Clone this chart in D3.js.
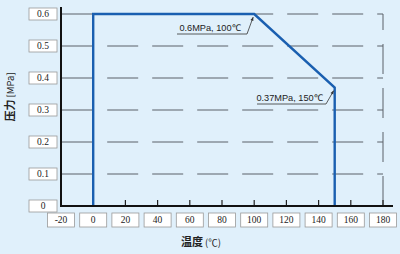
<!DOCTYPE html>
<html>
<head>
<meta charset="utf-8">
<script src="https://cdn.jsdelivr.net/npm/d3@7"></script>
<style>
  body { margin: 0; background: #e0f0fb; }
  svg { display: block; }
</style>
</head>
<body>
<div id="chart"></div>
<script>
// data
var xTicks = [-20, 0, 20, 40, 60, 80, 100, 120, 140, 160, 180];
var yTicks = [0, 0.1, 0.2, 0.3, 0.4, 0.5, 0.6];
var curveTemp = [0, 0, 100, 150, 150];
var curvePress = [0, 0.6, 0.6, 0.37, 0];
var notes = [
  { t: 100, p: 0.6, label: "0.6MPa, 100\u2103" },
  { t: 150, p: 0.37, label: "0.37MPa, 150\u2103" }
];

var w = 400, h = 254;
var svg = d3.select("#chart").append("svg")
  .attr("width", w).attr("height", h);

svg.append("rect").attr("width", w).attr("height", h).attr("fill", "#e0f0fb");

var x = d3.scaleLinear().domain([-20, 180]).range([61, 383]);
var y = d3.scaleLinear().domain([0, 0.6]).range([206, 14]);

var gridCol = "#5a6068";

// grid lines: solid up to 0, dashed after
yTicks.filter(function(d) { return d > 0; }).forEach(function(v) {
  svg.append("line")
    .attr("x1", x(-20)).attr("x2", x(0))
    .attr("y1", y(v)).attr("y2", y(v))
    .attr("stroke", gridCol).attr("stroke-width", 1);
  svg.append("line")
    .attr("x1", x(0)).attr("x2", x(180))
    .attr("y1", y(v)).attr("y2", y(v))
    .attr("stroke", gridCol).attr("stroke-width", 1)
    .attr("stroke-dasharray", "31,14")
    .attr("stroke-dashoffset", 31);
});

// right dashed border
svg.append("line")
  .attr("x1", x(180)).attr("x2", x(180))
  .attr("y1", y(0)).attr("y2", y(0.6))
  .attr("stroke", gridCol).attr("stroke-width", 1)
  .attr("stroke-dasharray", "30,14");

// x ticks
svg.selectAll(".xt")
  .data(xTicks.filter(function(d) { return d > 0; }))
  .enter().append("line")
  .attr("x1", function(d) { return x(d); })
  .attr("x2", function(d) { return x(d); })
  .attr("y1", y(0)).attr("y2", y(0) - 6)
  .attr("stroke", "#222").attr("stroke-width", 1.2);

// curve
var line = d3.line()
  .x(function(d) { return x(d[0]); })
  .y(function(d) { return y(d[1]); });
svg.append("path")
  .datum(d3.zip(curveTemp, curvePress))
  .attr("d", line)
  .attr("fill", "none")
  .attr("stroke", "#1a5fb0")
  .attr("stroke-width", 2.4)
  .attr("stroke-linejoin", "miter");

// axes
svg.append("line")
  .attr("x1", x(-20)).attr("x2", x(-20))
  .attr("y1", 7).attr("y2", y(0) + 1)
  .attr("stroke", "#111").attr("stroke-width", 2);
svg.append("line")
  .attr("x1", x(-20) - 1).attr("x2", 393)
  .attr("y1", y(0)).attr("y2", y(0))
  .attr("stroke", "#111").attr("stroke-width", 2);

// y tick boxes
var yb = svg.selectAll(".yb").data(yTicks).enter().append("g")
  .attr("transform", function(d) { return "translate(43," + y(d) + ")"; });
yb.append("rect")
  .attr("x", -14).attr("y", -6).attr("width", 28).attr("height", 12)
  .attr("fill", "#fff").attr("stroke", "#9a9a9a").attr("stroke-width", 0.8);
yb.append("text")
  .attr("text-anchor", "middle").attr("dy", "0.35em")
  .attr("font-family", "Liberation Serif, serif").attr("font-size", 9.5)
  .attr("fill", "#222")
  .text(function(d) { return d3.format("")(d); });

// x tick boxes
var xb = svg.selectAll(".xb").data(xTicks).enter().append("g")
  .attr("transform", function(d) { return "translate(" + x(d) + ",220)"; });
xb.append("rect")
  .attr("x", -13.5).attr("y", -7).attr("width", 27).attr("height", 14)
  .attr("fill", "#fff").attr("stroke", "#9a9a9a").attr("stroke-width", 0.8);
xb.append("text")
  .attr("text-anchor", "middle").attr("dy", "0.35em")
  .attr("font-family", "Liberation Serif, serif").attr("font-size", 9.5)
  .attr("fill", "#222")
  .text(function(d) { return d; });

// annotations
var ann = [
  { ux1: 177, ux2: 247, uy: 34 },
  { ux1: 257, ux2: 326, uy: 104 }
];
notes.forEach(function(n, i) {
  var a = ann[i];
  var px = x(n.t) - 1, py = y(n.p) + 3;
  svg.append("text")
    .attr("x", (a.ux1 + a.ux2) / 2 - 2).attr("y", a.uy - 3)
    .attr("text-anchor", "middle")
    .attr("font-family", "Liberation Sans, Arial, sans-serif").attr("font-size", 9.2)
    .attr("fill", "#222")
    .text(n.label);
  svg.append("polyline")
    .attr("points", [[a.ux1, a.uy], [a.ux2, a.uy], [px, py]].join(" "))
    .attr("fill", "none").attr("stroke", "#333").attr("stroke-width", 0.8);
  // arrow head
  var ang = Math.atan2(py - a.uy, px - a.ux2);
  var L = 4, s = 0.4;
  svg.append("path")
    .attr("d", "M" + px + "," + py +
      "L" + (px - L * Math.cos(ang - s)) + "," + (py - L * Math.sin(ang - s)) +
      "L" + (px - L * Math.cos(ang + s)) + "," + (py - L * Math.sin(ang + s)) + "Z")
    .attr("fill", "#333");
});

// axis titles
var yt = svg.append("text")
  .attr("transform", "translate(14,97) rotate(-90)")
  .attr("text-anchor", "middle")
  .attr("font-family", "Noto Sans CJK SC, sans-serif").attr("font-size", 11)
  .attr("fill", "#222");
yt.append("tspan").attr("font-weight", "bold").text("压力");
yt.append("tspan").attr("font-size", 9.5).text(" [MPa]");

var xt = svg.append("text")
  .attr("x", 201).attr("y", 246)
  .attr("text-anchor", "middle")
  .attr("font-family", "Noto Sans CJK SC, sans-serif").attr("font-size", 11)
  .attr("fill", "#222");
xt.append("tspan").attr("font-weight", "bold").text("温度");
xt.append("tspan").attr("font-size", 9.5).text(" (\u2103)");
</script>
</body>
</html>
